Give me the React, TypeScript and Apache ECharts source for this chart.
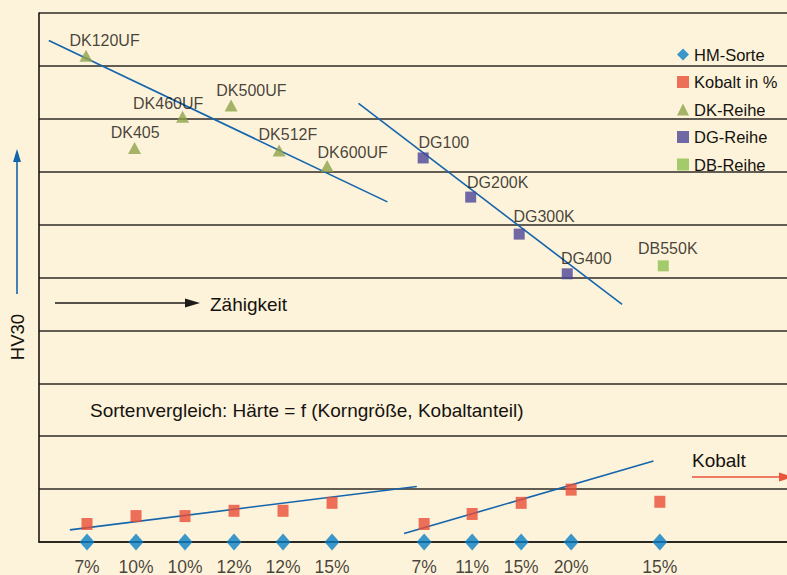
import React, { useEffect, useRef } from "react";
import * as echarts from "echarts";

// ---- data ----
const hmX = [0.98, 1.98, 2.98, 3.98, 4.98, 5.98, 7.86, 8.84, 9.84, 10.86, 12.67];
const hmLabels = ["7%", "10%", "10%", "12%", "12%", "15%", "7%", "11%", "15%", "20%", "15%"];
const kobaltY = [0.34, 0.49, 0.49, 0.59, 0.59, 0.74, 0.34, 0.53, 0.74, 0.99, 0.76];

const dkNames = ["DK120UF", "DK405", "DK460UF", "DK500UF", "DK512F", "DK600UF"];
const dkX = [0.96, 1.95, 2.93, 3.92, 4.9, 5.88];
const dkY = [9.19, 7.45, 8.04, 8.25, 7.4, 7.11];

const dgNames = ["DG100", "DG200K", "DG300K", "DG400"];
const dgX = [7.84, 8.81, 9.8, 10.78];
const dgY = [7.26, 6.52, 5.82, 5.07];

const dbNames = ["DB550K"];
const dbX = [12.74];
const dbY = [5.22];

const trendDK = [[0.2, 9.48], [7.11, 6.43]];
const trendDG = [[6.52, 8.29], [11.9, 4.49]];
const trendKob1 = [[0.63, 0.23], [7.71, 1.05]];
const trendKob2 = [[7.45, 0.16], [12.54, 1.53]];

// ---- layout (label offsets in px) ----
const dkLabelOffsets = [[18.5, -15.3], [0.6, -15], [-14.4, -13], [20.3, -15.4], [8.8, -16.4], [25.5, -13.3]];
const dgLabelOffsets = [[20.7, -15.3], [27, -14.6], [24.9, -17.3], [19, -15.3]];
const dbLabelOffsets = [[4.5, -17.7]];

const FONT = "'Liberation Sans', Arial, Helvetica, sans-serif";
const TXT = "#15120f";
const BG = "#fdf3da";
const LINE_BLUE = "#1565ad";

const namedPoints = (names: string[], xs: number[], ys: number[], offs: number[][]) =>
  names.map((n, i) => ({
    name: n,
    value: [xs[i], ys[i]],
    label: { offset: offs[i] },
  }));

const trendSeries = (data: number[][]) => ({
  type: "line",
  data,
  showSymbol: false,
  symbol: "none",
  silent: true,
  lineStyle: { color: LINE_BLUE, width: 1.6 },
  z: 1,
});

export default function App() {
  const ref = useRef<HTMLDivElement>(null);
  useEffect(() => {
    document.body.style.margin = "0";
    const chart = echarts.init(ref.current!, null, { renderer: "svg" });
    const pointLabel = {
      show: true,
      position: "inside",
      formatter: "{b}",
      color: TXT,
      fontSize: 16,
      fontFamily: FONT,
    };
    chart.setOption({
      animation: false,
      backgroundColor: BG,
      textStyle: { fontFamily: FONT },
      grid: { left: 39, right: 0, top: 13, height: 529 },
      xAxis: {
        type: "value",
        min: 0,
        max: 15.265,
        axisLine: { show: true, lineStyle: { color: "#1a1612", width: 1.6 } },
        axisTick: { show: false },
        axisLabel: { show: false },
        splitLine: { show: false },
      },
      yAxis: {
        type: "value",
        min: 0,
        max: 10,
        interval: 1,
        axisLine: { show: true, lineStyle: { color: "#1a1612", width: 1.6 } },
        axisTick: { show: false },
        axisLabel: { show: false },
        splitLine: { show: true, lineStyle: { color: "#2e2a24", width: 1.6 } },
      },
      legend: {
        orient: "vertical",
        left: 672,
        top: 41,
        itemWidth: 12,
        itemHeight: 12,
        itemGap: 10.5,
        data: ["HM-Sorte", "Kobalt in %", "DK-Reihe", "DG-Reihe", "DB-Reihe"],
        textStyle: { fontSize: 16.5, lineHeight: 16, color: TXT, fontFamily: FONT },
      },
      series: [
        trendSeries(trendDK),
        trendSeries(trendDG),
        trendSeries(trendKob1),
        trendSeries(trendKob2),
        {
          name: "HM-Sorte",
          type: "scatter",
          symbol: "diamond",
          symbolSize: [15, 17],
          itemStyle: { color: "#0a7fc6" },
          clip: false,
          z: 5,
          data: hmX.map((x, i) => ({ name: hmLabels[i], value: [x, 0] })),
          label: {
            show: true,
            position: "bottom",
            distance: 7,
            formatter: "{b}",
            color: TXT,
            fontSize: 17.5,
            fontFamily: FONT,
          },
        },
        {
          name: "Kobalt in %",
          type: "scatter",
          symbol: "rect",
          symbolSize: [11, 12],
          itemStyle: { color: "#e84e36" },
          z: 4,
          data: hmX.map((x, i) => [x, kobaltY[i]]),
        },
        {
          name: "DK-Reihe",
          type: "scatter",
          symbol: "triangle",
          symbolSize: [13, 12],
          itemStyle: { color: "#8ea24a" },
          z: 4,
          label: pointLabel,
          data: namedPoints(dkNames, dkX, dkY, dkLabelOffsets),
        },
        {
          name: "DG-Reihe",
          type: "scatter",
          symbol: "rect",
          symbolSize: 11,
          itemStyle: { color: "#4b4596" },
          z: 4,
          label: pointLabel,
          data: namedPoints(dgNames, dgX, dgY, dgLabelOffsets),
        },
        {
          name: "DB-Reihe",
          type: "scatter",
          symbol: "rect",
          symbolSize: 11,
          itemStyle: { color: "#8dc04f" },
          z: 4,
          label: pointLabel,
          data: namedPoints(dbNames, dbX, dbY, dbLabelOffsets),
        },
      ],
      graphic: [
        {
          type: "text",
          x: 17,
          y: 337,
          rotation: Math.PI / 2,
          style: { text: "HV30", fontSize: 18.5, fontFamily: FONT, fill: TXT, align: "center", verticalAlign: "middle" },
        },
        { type: "line", shape: { x1: 17, y1: 294, x2: 17, y2: 160 }, style: { stroke: LINE_BLUE, lineWidth: 1.6 } },
        { type: "polygon", shape: { points: [[17, 149], [13, 162], [21, 162]] }, style: { fill: LINE_BLUE } },
        { type: "line", shape: { x1: 55, y1: 303, x2: 188, y2: 303 }, style: { stroke: "#1e1b18", lineWidth: 1.6 } },
        { type: "polygon", shape: { points: [[200, 303], [185, 298.5], [185, 307.5]] }, style: { fill: "#1e1b18" } },
        {
          type: "text",
          x: 210,
          y: 304,
          style: { text: "Zähigkeit", fontSize: 19, fontFamily: FONT, fill: TXT, align: "left", verticalAlign: "middle" },
        },
        {
          type: "text",
          x: 90,
          y: 410,
          style: {
            text: "Sortenvergleich: Härte = f (Korngröße, Kobaltanteil)",
            fontSize: 19,
            fontFamily: FONT,
            fill: TXT,
            align: "left",
            verticalAlign: "middle",
          },
        },
        {
          type: "text",
          x: 692,
          y: 460,
          style: { text: "Kobalt", fontSize: 19, fontFamily: FONT, fill: TXT, align: "left", verticalAlign: "middle" },
        },
        { type: "line", shape: { x1: 692, y1: 477, x2: 782, y2: 477 }, style: { stroke: "#e8553a", lineWidth: 1.6 } },
        { type: "polygon", shape: { points: [[793, 477], [779, 472.5], [779, 481.5]] }, style: { fill: "#e8553a" } },
      ],
    });
    return () => chart.dispose();
  }, []);
  return <div ref={ref} style={{ width: 787, height: 575 }} />;
}
